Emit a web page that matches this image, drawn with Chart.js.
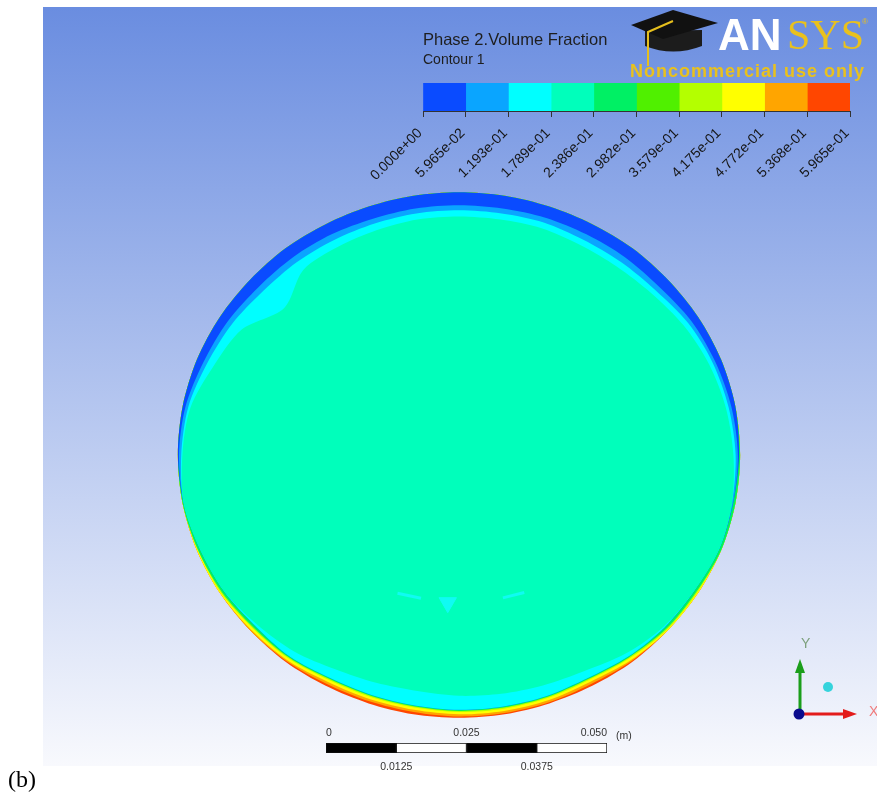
<!DOCTYPE html>
<html>
<head>
<meta charset="utf-8">
<script src="https://cdn.jsdelivr.net/npm/chart.js@4.4.1/dist/chart.umd.min.js"></script>
<style>
  body { margin: 0; background: #fff; width: 877px; height: 792px; overflow: hidden; position: relative; font-family: "Liberation Sans", Arial, sans-serif; }
  #frame { position: absolute; left: 43px; top: 7px; width: 834px; height: 759px; background: linear-gradient(#6a8de0, #f8f9fd); }
  canvas { position: absolute; }
  #contour, #blobs { left: 123px; top: 119px; }
  #legendBar { left: 363px; top: 73px; }
  #ruler { left: 300px; top: 720px; }
  .txt { position: absolute; line-height: 1; white-space: nowrap; }
  #deco { position: absolute; left: 0; top: 0; }
</style>
</head>
<body>
<div id="frame"></div>
<canvas id="contour" width="672" height="672"></canvas>
<canvas id="blobs" width="672" height="672"></canvas>
<canvas id="legendBar" width="507" height="122"></canvas>
<canvas id="ruler" width="360" height="60"></canvas>

<svg id="deco" width="877" height="792">
  <!-- mortarboard -->
  <path d="M645,31 L645,46 Q673,57 702,46 L702,30 Z" fill="#1c1c1c"/>
  <polygon points="631,25 673,10 718,23 663,39" fill="#111"/>
  <polyline points="673,21 648,32 648,66" stroke="#e6bf1d" stroke-width="2" fill="none"/>
  <!-- axis triad -->
  <line x1="800" y1="713" x2="800" y2="671" stroke="#1b9e1b" stroke-width="3"/>
  <polygon points="795,673 805,673 800,659" fill="#1b9e1b"/>
  <line x1="801" y1="714" x2="845" y2="714" stroke="#e31b1b" stroke-width="3"/>
  <polygon points="843,709 843,719 857,714" fill="#e31b1b"/>
  <circle cx="799" cy="714" r="5.5" fill="#0b0b8e"/>
  <circle cx="828" cy="687" r="5" fill="#35d3dc"/>
  <text x="801" y="648" font-family="Liberation Sans" font-size="14" fill="#7da07d">Y</text>
  <text x="869" y="716" font-family="Liberation Sans" font-size="14" fill="#f07b7b">X</text>
</svg>

<div class="txt" style="left:423px;top:31px;font-size:16.5px;color:#1e1e1e">Phase 2.Volume Fraction</div>
<div class="txt" style="left:423px;top:52px;font-size:14px;color:#1e1e1e">Contour 1</div>
<div class="txt" style="left:718px;top:13px;font-size:44px;font-weight:bold;color:#fff">AN</div>
<div class="txt" style="left:787px;top:14px;font-size:42px;font-family:'Liberation Serif',serif;color:#e9c11d">SYS</div>
<div class="txt" style="left:862px;top:18px;font-size:8px;color:#e9c11d">®</div>
<div class="txt" style="left:630px;top:62px;font-size:18px;font-weight:bold;letter-spacing:1px;color:#e9c11d">Noncommercial use only</div>
<div class="txt" style="left:616px;top:730px;font-size:10.5px;color:#333">(m)</div>
<div class="txt" style="left:8px;top:767px;font-size:24px;font-family:'Liberation Serif',serif;color:#000">(b)</div>

<script>
Chart.defaults.font.family = 'Liberation Sans';

// colour legend: contour levels of phase 2 volume fraction
const levels = [0, 0.059646, 0.119292, 0.178938, 0.238584, 0.29823, 0.357876, 0.417522, 0.477168, 0.536814, 0.59646];
const tickLabels = ['0.000e+00', '5.965e-02', '1.193e-01', '1.789e-01', '2.386e-01', '2.982e-01',
                    '3.579e-01', '4.175e-01', '4.772e-01', '5.368e-01', '5.965e-01'];
const levelColors = ['#0a4bff', '#0aa5ff', '#00ffff', '#00ffbb', '#00f064', '#50f000',
                     '#b4ff00', '#ffff00', '#ffa500', '#ff4600'];

// length scale (m)
const rulerSegments = [0.0125, 0.0125, 0.0125, 0.0125];
const rulerColors = ['#000', '#fff', '#000', '#fff'];
const rulerTop = [0, 0.025, 0.05];
const rulerTopLabels = ['0', '0.025', '0.050'];
const rulerBottom = [0.0125, 0.0375];
const rulerBottomLabels = ['0.0125', '0.0375'];

// cross-section, read every 10 degrees clockwise from the top (mm)
const angles = ['0', '10', '20', '30', '40', '50', '60', '70', '80', '90', '100', '110',
                '120', '130', '140', '150', '160', '170', '180', '190', '200', '210', '220', '230',
                '240', '250', '260', '270', '280', '290', '300', '310', '320', '330', '340', '350'];
const outerR = [46.9, 47.0, 47.2, 47.6, 48.2, 48.7, 49.3, 49.8, 50.1, 50.2, 50.1, 49.8,
                49.3, 48.7, 48.2, 47.6, 47.2, 47.0, 46.9, 47.0, 47.2, 47.6, 48.2, 48.7,
                49.3, 49.8, 50.1, 50.2, 50.1, 49.8, 49.3, 48.7, 48.2, 47.6, 47.2, 47.0];
// thickness of each contour band along the wall (mm)
const redT = [0, 0, 0, 0, 0, 0, 0, 0, 0, 0, 0, 0,
              0, 0, 0.2, 0.4, 0.2, 0.2, 0.2, 0.4, 0.4, 0.4, 0.2, 0,
              0, 0, 0, 0, 0, 0, 0, 0, 0, 0, 0, 0];
const orangeT = [0, 0, 0, 0, 0, 0, 0, 0, 0, 0, 0, 0,
                 0, 0, 0.2, 0.4, 0.4, 0.4, 0.4, 0.4, 0.4, 0.4, 0.2, 0.2,
                 0, 0, 0, 0, 0, 0, 0, 0, 0, 0, 0, 0];
const yellowT = [0, 0, 0, 0, 0, 0, 0, 0, 0, 0, 0, 0,
                 0.2, 0.2, 0.4, 0.4, 0.4, 0.4, 0.4, 0.4, 0.4, 0.4, 0.4, 0.4,
                 0.2, 0.2, 0, 0, 0, 0, 0, 0, 0, 0, 0, 0];
const limeT = [0, 0, 0, 0, 0, 0, 0, 0, 0, 0, 0, 0,
               0.2, 0.2, 0.2, 0.2, 0.2, 0.2, 0.2, 0.2, 0.2, 0.2, 0.2, 0.2,
               0.2, 0, 0, 0, 0, 0, 0, 0, 0, 0, 0, 0];
const greenT = [0, 0, 0, 0, 0, 0, 0, 0, 0, 0.2, 0.4, 0.4,
                0.4, 0.4, 0.2, 0.2, 0.2, 0.2, 0.2, 0.2, 0.2, 0.2, 0.2, 0.4,
                0.4, 0.4, 0.2, 0, 0, 0, 0, 0, 0, 0, 0, 0];
const darkBlueT = [2.3, 2.3, 2.1, 2.1, 2.1, 2.0, 1.4, 1.1, 0.7, 0.2, 0, 0,
                   0, 0, 0, 0, 0, 0, 0, 0, 0, 0, 0, 0,
                   0, 0, 0, 0.2, 0.5, 1.25, 1.6, 2.0, 2.1, 2.1, 2.3, 2.3];
const lightBlueT = [0.9, 0.9, 0.9, 1.1, 1.1, 0.9, 0.7, 0.5, 0.5, 0.4, 0.2, 0,
                    0, 0, 0, 0, 0, 0, 0, 0, 0, 0, 0, 0,
                    0, 0, 0, 0.4, 0.5, 0.7, 0.9, 1.1, 1.1, 1.1, 0.9, 0.9];
const cyanT = [1.1, 1.1, 1.1, 1.1, 1.1, 0.9, 0.9, 0.7, 0.5, 0.4, 0, 0,
               0, 0.2, 0.7, 1.4, 2.0, 2.3, 2.5, 2.6, 2.3, 1.8, 1.2, 0.4,
               0, 0, 0, 0.2, 0.4, 1.25, 2.0, 4.8, 1.8, 1.4, 1.25, 1.1];

// small low-fraction pockets near the bottom (mm from pipe centre)
const pocketX = [-9.3, -2.1, 10.2];
const pocketY = [-26.3, -27.6, -26.2];

// bands painted from the wall inwards
const painter = [
  [redT, levelColors[9]], [orangeT, levelColors[8]], [yellowT, levelColors[7]],
  [limeT, levelColors[6]], [greenT, levelColors[4]], [darkBlueT, levelColors[0]],
  [lightBlueT, levelColors[1]], [cyanT, levelColors[2]]
];
let depth = angles.map(() => 0);
const contourSets = [];
painter.forEach(([t, color], i) => {
  contourSets.push({ data: outerR.map((r, k) => r - depth[k]), backgroundColor: color, fill: true, order: 20 - i });
  depth = depth.map((d, k) => d + t[k]);
});
contourSets.push({ data: outerR.map((r, k) => r - depth[k]), backgroundColor: levelColors[3], fill: true, order: 0 });

new Chart(document.getElementById('contour'), {
  type: 'radar',
  data: { labels: angles, datasets: contourSets },
  options: {
    responsive: false,
    animation: false,
    events: [],
    elements: {
      line: { borderWidth: 0, borderColor: 'rgba(0,0,0,0)', tension: 0.3 },
      point: { radius: 0 }
    },
    plugins: { legend: { display: false }, tooltip: { enabled: false } },
    scales: { r: { display: false, min: 0, max: 60 } }
  }
});

new Chart(document.getElementById('blobs'), {
  type: 'scatter',
  data: {
    datasets: [{
      data: pocketX.map((x, i) => ({ x: x, y: pocketY[i] })),
      pointStyle: ['line', 'triangle', 'line'],
      pointRadius: [12, 10, 11],
      pointBorderWidth: [3, 1, 3],
      pointRotation: [12, 180, -14],
      borderColor: '#10fbf2',
      backgroundColor: '#10fbf2'
    }]
  },
  options: {
    responsive: false,
    animation: false,
    events: [],
    plugins: { legend: { display: false }, tooltip: { enabled: false } },
    scales: {
      x: { display: false, min: -60, max: 60 },
      y: { display: false, min: -60, max: 60 }
    }
  }
});

new Chart(document.getElementById('legendBar'), {
  type: 'bar',
  data: {
    labels: [''],
    datasets: levelColors.map((c, i) => ({
      data: [levels[i + 1] - levels[i]], backgroundColor: c, borderWidth: 0,
      barPercentage: 1, categoryPercentage: 1
    }))
  },
  options: {
    indexAxis: 'y',
    responsive: false,
    animation: false,
    events: [],
    layout: { padding: { left: 60, right: 20, top: 10, bottom: 0 } },
    plugins: { legend: { display: false }, tooltip: { enabled: false } },
    scales: {
      y: { stacked: true, display: false },
      x: {
        stacked: true, min: 0, max: levels[levels.length - 1], position: 'bottom',
        afterBuildTicks: s => { s.ticks = levels.map(v => ({ value: v })); },
        afterFit: s => { s.height = 84; },
        grid: { drawOnChartArea: false, tickLength: 6, color: '#333' },
        border: { display: true, color: '#333' },
        ticks: {
          autoSkip: false, minRotation: 45, maxRotation: 45, padding: 8, labelOffset: -3,
          color: '#151515', font: { size: 14 },
          callback: (v, i) => tickLabels[i]
        }
      }
    }
  }
});

new Chart(document.getElementById('ruler'), {
  type: 'bar',
  data: {
    labels: [''],
    datasets: rulerSegments.map((v, i) => ({
      data: [v], backgroundColor: rulerColors[i], borderColor: '#111', borderWidth: 1,
      borderSkipped: false, barPercentage: 1, categoryPercentage: 1
    }))
  },
  options: {
    indexAxis: 'y',
    responsive: false,
    animation: false,
    events: [],
    layout: { padding: { left: 26, right: 53, top: 0, bottom: 0 } },
    plugins: { legend: { display: false }, tooltip: { enabled: false } },
    scales: {
      y: { stacked: true, display: false },
      x: {
        stacked: true, min: 0, max: 0.05, position: 'bottom',
        afterBuildTicks: s => { s.ticks = rulerBottom.map(v => ({ value: v })); },
        afterFit: s => { s.height = 27; },
        grid: { display: false, drawTicks: false },
        border: { display: false },
        ticks: { autoSkip: false, maxRotation: 0, padding: 8, color: '#333', font: { size: 10.5 },
                 callback: (v, i) => rulerBottomLabels[i] }
      },
      xTop: {
        type: 'linear', min: 0, max: 0.05, position: 'top',
        afterBuildTicks: s => { s.ticks = rulerTop.map(v => ({ value: v })); },
        afterFit: s => { s.height = 23; },
        grid: { display: false, drawTicks: false },
        border: { display: false },
        ticks: { autoSkip: false, maxRotation: 0, padding: 4, align: 'inner', color: '#333', font: { size: 10.5 },
                 callback: (v, i) => rulerTopLabels[i] }
      }
    }
  }
});
</script>
</body>
</html>
